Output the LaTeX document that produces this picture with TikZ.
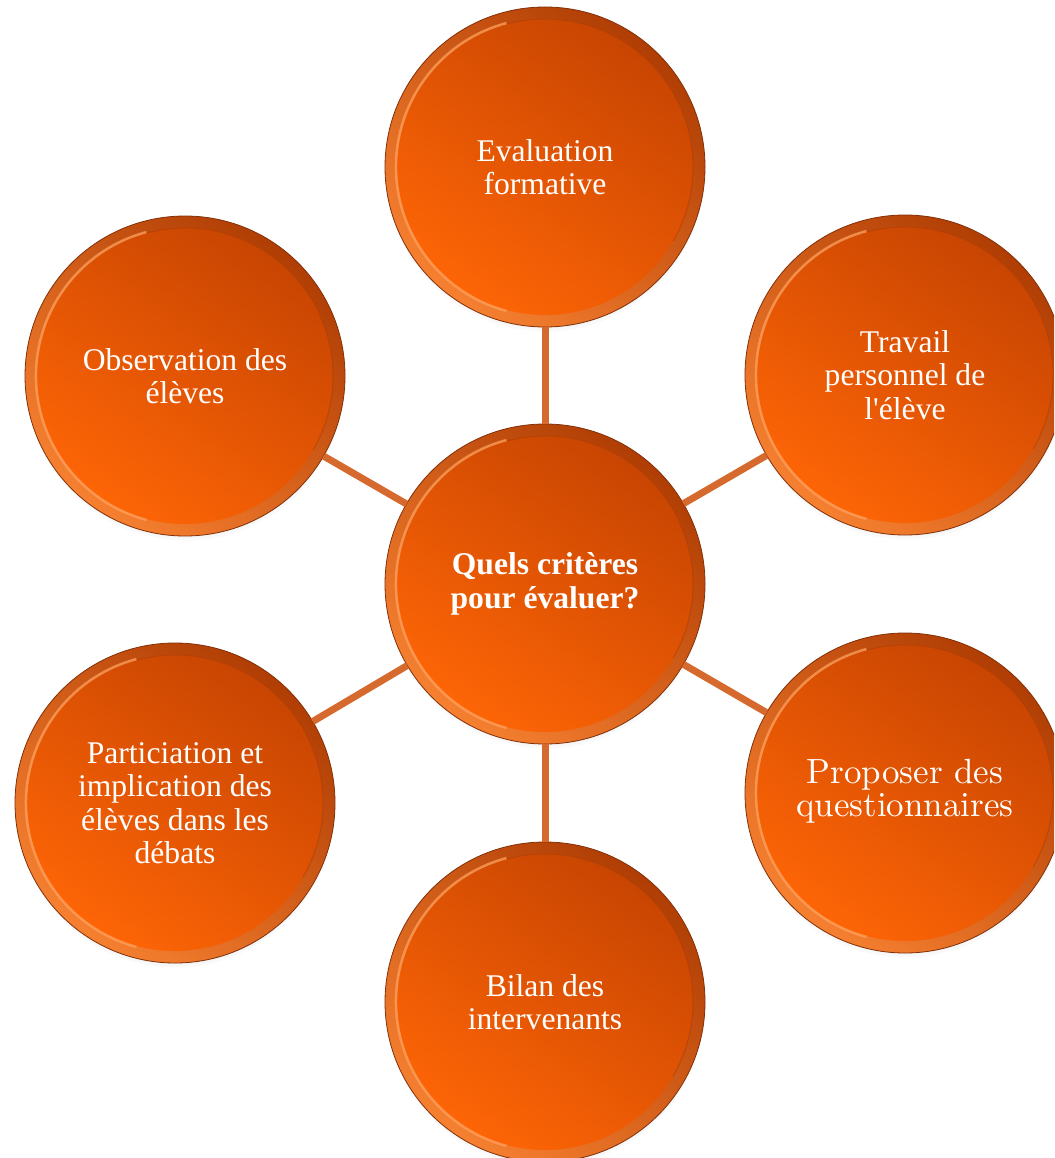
\documentclass[tikz,border=0pt]{standalone}
\usepackage{fontspec}
\usepackage{graphicx}
\newfontfamily\tnr{Liberation Serif}
\usetikzlibrary{shadows}
\definecolor{ringlight}{RGB}{246,128,48}
\definecolor{ringdark}{RGB}{176,62,4}
\definecolor{disctop}{RGB}{198,68,2}
\definecolor{discbot}{RGB}{255,102,6}
\definecolor{edgecol}{RGB}{130,48,8}
\definecolor{conn}{RGB}{214,106,46}
\definecolor{hilite}{RGB}{255,160,92}
\tikzset{
  bubble/.style={circle, minimum size=320pt, inner sep=0pt, outer sep=0pt,
    circular drop shadow={shadow xshift=0pt, shadow yshift=-5pt, opacity=0.35, shadow scale=1.0},
    top color=ringdark, bottom color=ringlight, shading angle=-40,
    draw=edgecol, line width=0.8pt, text=white, align=center,
    font=\tnr\fontsize{31.6}{33.5}\selectfont,
    path picture={
      \shade[top color=disctop, bottom color=discbot, shading angle=-35]
        (path picture bounding box.center) circle (148pt);
      \draw[hilite, line width=2.5pt, opacity=0.75]
        ([shift={(105:149pt)}]path picture bounding box.center) arc (105:255:149pt);
      \draw[ringdark, line width=1pt, opacity=0.6]
        ([shift={(-30:148pt)}]path picture bounding box.center) arc (-30:105:148pt);
    }},
  link/.style={draw=conn, line width=7pt}
}
\begin{document}
\begin{tikzpicture}[x=1pt, y=-1pt]
  \fill[white] (0,0) rectangle (1054,1158);
  \useasboundingbox (0,0) rectangle (1054,1158);
  \clip (0,0) rectangle (1054,1158);
  \node[bubble] (c) at (545,584) {\bfseries Quels critères\\\bfseries pour évaluer?};
  \node[bubble] (t) at (545,167) {Evaluation\\ formative};
  \node[bubble] (ul) at (185,376) {Observation des\\ élèves};
  \node[bubble] (ur) at (905,375) {Travail\\ personnel de\\ l\textquotesingle élève};
  \node[bubble] (ll) at (175,803) {Particiation et\\ implication des\\ élèves dans les\\ débats};
  \node[bubble] (lr) at (905,793) {\scalebox{3.5}{\rmfamily\fontsize{10}{9.4}\selectfont\begin{tabular}{@{}c@{}}Proposer des\\ questionnaires\end{tabular}}};
  \node[bubble] (b) at (545,1002) {Bilan des\\ intervenants};
  \draw[link] (c) -- (t);
  \draw[link] (c) -- (ul);
  \draw[link] (c) -- (ur);
  \draw[link] (c) -- (ll);
  \draw[link] (c) -- (lr);
  \draw[link] (c) -- (b);
\end{tikzpicture}
\end{document}
